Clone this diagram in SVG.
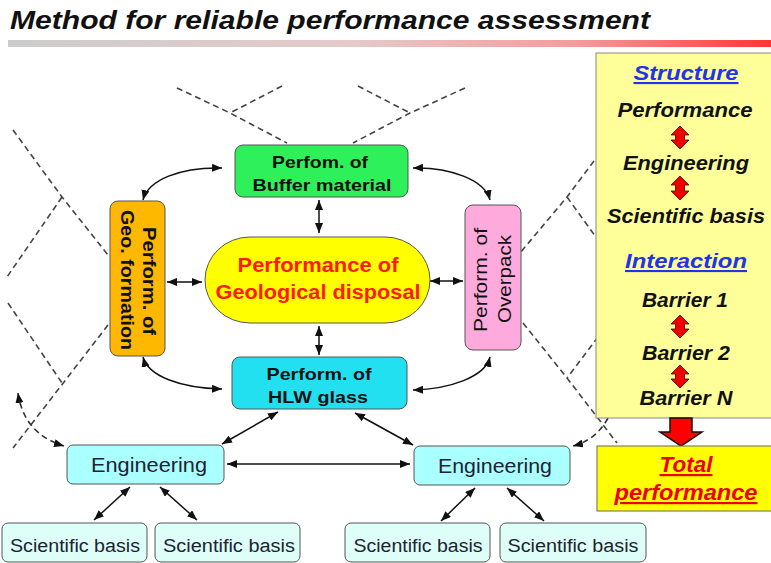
<svg xmlns="http://www.w3.org/2000/svg" width="771" height="563" viewBox="0 0 771 563">
  <defs>
    <linearGradient id="titleBar" x1="0" y1="0" x2="1" y2="0">
      <stop offset="0" stop-color="#cccccc"/>
      <stop offset="0.45" stop-color="#e6caca"/>
      <stop offset="0.75" stop-color="#f59a9a"/>
      <stop offset="1" stop-color="#ff3535"/>
    </linearGradient>
    <marker id="ah" viewBox="0 0 10 8" refX="10" refY="4" markerWidth="10" markerHeight="8" markerUnits="userSpaceOnUse" orient="auto-start-reverse">
      <path d="M0,0 L10,4 L0,8 z" fill="#111"/>
    </marker>
    <style>
      .box { stroke: #555; stroke-width: 1; }
      .lbl { font-family: "Liberation Sans", Arial, sans-serif; fill: #111; text-anchor: middle; }
      .b { font-weight: bold; }
      .bi { font-weight: bold; font-style: italic; }
      .conn { fill: none; stroke: #111; stroke-width: 1.5; marker-start: url(#ah); marker-end: url(#ah); }
      .dash { fill: none; stroke: #444; stroke-width: 1.6; stroke-dasharray: 6 4; }
      .dasharrow { fill: none; stroke: #333; stroke-width: 1.6; stroke-dasharray: 6 4; }
      .redarrow { fill: #ee0000; stroke: #550000; stroke-width: 0.8; }
    </style>
  </defs>

  <rect width="771" height="563" fill="#ffffff"/>

  <!-- heading -->
  <g id="title">
    <text x="10" y="29" class="lbl bi" font-size="25" style="text-anchor:start" textLength="640" lengthAdjust="spacingAndGlyphs">Method for reliable performance assessment</text>
    <rect x="8" y="40" width="763" height="7" fill="url(#titleBar)"/>
  </g>

  <!-- dashed context lines -->
  <g id="context-lines">
    <polyline class="dash" points="177,88 230,113 287,143"/>
    <polyline class="dash" points="282,86 230,113"/>
    <polyline class="dash" points="465,88 410,113 353,143"/>
    <polyline class="dash" points="358,86 410,113"/>
    <polyline class="dash" points="13,130 62,197 108,255"/>
    <polyline class="dash" points="62,197 7,277"/>
    <polyline class="dash" points="8,303 62,383"/>
    <polyline class="dash" points="108,325 13,448"/>
    <polyline class="dash" points="600,153 567,197 520,253"/>
    <polyline class="dash" points="567,197 598,240"/>
    <polyline class="dash" points="523,323 567,378 617,443"/>
    <polyline class="dash" points="598,337 567,378"/>
    <path class="dasharrow" d="M18,393 Q24,434 64,446" marker-start="url(#ah)" marker-end="url(#ah)"/>
    <path class="dasharrow" d="M608,418 Q596,440 573,446" marker-end="url(#ah)"/>
  </g>

  <!-- side panel -->
  <g id="panel">
    <rect x="596" y="53" width="176" height="365" fill="#ffff99" stroke="#888" stroke-width="1"/>
    <text x="686" y="80" class="bi" font-family="Liberation Sans, Arial, sans-serif" font-size="21" fill="#2233ee" text-anchor="middle" text-decoration="underline" textLength="105" lengthAdjust="spacingAndGlyphs">Structure</text>
    <text x="685" y="117" class="lbl bi" font-size="20" textLength="135" lengthAdjust="spacingAndGlyphs">Performance</text>
    <polygon class="redarrow" points="680,126 689,135 684.5,135 684.5,140 689,140 680,149 671,140 675.5,140 675.5,135 671,135"/>
    <text x="686" y="170" class="lbl bi" font-size="20" textLength="126" lengthAdjust="spacingAndGlyphs">Engineering</text>
    <polygon class="redarrow" points="680,176 689,185 684.5,185 684.5,191 689,191 680,200 671,191 675.5,191 675.5,185 671,185"/>
    <text x="686" y="223" class="lbl bi" font-size="20" textLength="158" lengthAdjust="spacingAndGlyphs">Scientific basis</text>
    <text x="686" y="268" class="bi" font-family="Liberation Sans, Arial, sans-serif" font-size="21" fill="#2233ee" text-anchor="middle" text-decoration="underline" textLength="122" lengthAdjust="spacingAndGlyphs">Interaction</text>
    <text x="685" y="307" class="lbl bi" font-size="20" textLength="86" lengthAdjust="spacingAndGlyphs">Barrier 1</text>
    <polygon class="redarrow" points="680,315 689,324 684.5,324 684.5,329 689,329 680,338 671,329 675.5,329 675.5,324 671,324"/>
    <text x="686" y="360" class="lbl bi" font-size="20" textLength="88" lengthAdjust="spacingAndGlyphs">Barrier 2</text>
    <polygon class="redarrow" points="680,365 689,374 684.5,374 684.5,379 689,379 680,388 671,379 675.5,379 675.5,374 671,374"/>
    <text x="686" y="405" class="lbl bi" font-size="20" textLength="93" lengthAdjust="spacingAndGlyphs">Barrier N</text>
  </g>

  <!-- result -->
  <g id="total">
    <polygon points="670,418 692,418 692,432 702,432 681,446 660,432 670,432" fill="#ff0000" stroke="#111" stroke-width="1.5"/>
    <rect x="597" y="446" width="175" height="65" fill="#ffff00" stroke="#666" stroke-width="1"/>
    <text x="686" y="472" class="bi" font-family="Liberation Sans, Arial, sans-serif" font-size="22" fill="#ee0000" text-anchor="middle" text-decoration="underline" textLength="53" lengthAdjust="spacingAndGlyphs">Total</text>
    <text x="686" y="500" class="bi" font-family="Liberation Sans, Arial, sans-serif" font-size="22" fill="#ee0000" text-anchor="middle" text-decoration="underline" textLength="143" lengthAdjust="spacingAndGlyphs">performance</text>
  </g>

  <!-- connectors -->
  <g id="connectors">
    <path class="conn" d="M143,200 C148,180 180,167 222,168"/>
    <path class="conn" d="M413,168 C450,167 485,180 490,200"/>
    <path class="conn" d="M143,357 C148,376 180,388 222,389"/>
    <path class="conn" d="M490,357 C485,377 450,389 413,390"/>
    <path class="conn" d="M319,200 L319,233"/>
    <path class="conn" d="M319,326 L319,355"/>
    <path class="conn" d="M167,282 L202,282"/>
    <path class="conn" d="M430,281 L463,281"/>
    <path class="conn" d="M278,412 L222,444"/>
    <path class="conn" d="M355,413 L413,445"/>
    <path class="conn" d="M227,464 L410,464"/>
    <path class="conn" d="M130,487 L94,520"/>
    <path class="conn" d="M160,487 L197,520"/>
    <path class="conn" d="M475,488 L441,521"/>
    <path class="conn" d="M507,488 L544,521"/>
  </g>

  <!-- nodes -->
  <g id="buffer">
    <rect class="box" x="235" y="145" width="173" height="52" rx="8" fill="#2ef05a"/>
    <text x="320" y="168" class="lbl b" font-size="17" textLength="96" lengthAdjust="spacingAndGlyphs">Perfom. of</text>
    <text x="322" y="191" class="lbl b" font-size="17" textLength="139" lengthAdjust="spacingAndGlyphs">Buffer material</text>
  </g>

  <g id="geo">
    <rect class="box" x="110" y="201" width="55" height="155" rx="8" fill="#ffb800"/>
    <text transform="translate(143,281) rotate(90)" x="0" y="0" class="lbl b" font-size="18" textLength="108" lengthAdjust="spacingAndGlyphs">Perform. of</text>
    <text transform="translate(121,280) rotate(90)" x="0" y="0" class="lbl b" font-size="18" textLength="140" lengthAdjust="spacingAndGlyphs">Geo. formation</text>
  </g>

  <g id="disposal">
    <rect class="box" x="205" y="237" width="225" height="86" rx="45" ry="43" fill="#ffff00"/>
    <text x="318" y="272" class="lbl b" font-size="19.5" style="fill:#ff1a00" textLength="161" lengthAdjust="spacingAndGlyphs">Performance of</text>
    <text x="318" y="299" class="lbl b" font-size="19.5" style="fill:#ff1a00" textLength="205" lengthAdjust="spacingAndGlyphs">Geological disposal</text>
  </g>

  <g id="overpack">
    <rect class="box" x="465" y="205" width="56" height="145" rx="8" fill="#ffaadd"/>
    <text transform="translate(487,280) rotate(-90)" x="0" y="0" class="lbl" font-size="18" textLength="104" lengthAdjust="spacingAndGlyphs">Perform. of</text>
    <text transform="translate(511,279) rotate(-90)" x="0" y="0" class="lbl" font-size="18" textLength="88" lengthAdjust="spacingAndGlyphs">Overpack</text>
  </g>

  <g id="hlw">
    <rect class="box" x="232" y="357" width="175" height="52" rx="8" fill="#22e0f0"/>
    <text x="319" y="380" class="lbl b" font-size="17" textLength="105" lengthAdjust="spacingAndGlyphs">Perform. of</text>
    <text x="318" y="403" class="lbl b" font-size="17" textLength="100" lengthAdjust="spacingAndGlyphs">HLW glass</text>
  </g>

  <g id="eng-left">
    <rect class="box" x="67" y="445" width="157" height="39" rx="6" fill="#aaffff"/>
    <text x="149" y="472" class="lbl" font-size="20" style="fill:#223" textLength="116" lengthAdjust="spacingAndGlyphs">Engineering</text>
  </g>

  <g id="eng-right">
    <rect class="box" x="414" y="446" width="156" height="39" rx="6" fill="#aaffff"/>
    <text x="495" y="473" class="lbl" font-size="20" style="fill:#223" textLength="114" lengthAdjust="spacingAndGlyphs">Engineering</text>
  </g>

  <g id="sci-1">
    <rect class="box" x="2" y="523" width="145" height="39" rx="6" fill="#ddfff7"/>
    <text x="75" y="552" class="lbl" font-size="18" style="fill:#223" textLength="130" lengthAdjust="spacingAndGlyphs">Scientific basis</text>
  </g>
  <g id="sci-2">
    <rect class="box" x="155" y="523" width="145" height="39" rx="6" fill="#ddfff7"/>
    <text x="229" y="552" class="lbl" font-size="18" style="fill:#223" textLength="132" lengthAdjust="spacingAndGlyphs">Scientific basis</text>
  </g>
  <g id="sci-3">
    <rect class="box" x="345" y="523" width="145" height="39" rx="6" fill="#ddfff7"/>
    <text x="418" y="552" class="lbl" font-size="18" style="fill:#223" textLength="129" lengthAdjust="spacingAndGlyphs">Scientific basis</text>
  </g>
  <g id="sci-4">
    <rect class="box" x="500" y="523" width="146" height="39" rx="6" fill="#ddfff7"/>
    <text x="573" y="552" class="lbl" font-size="18" style="fill:#223" textLength="131" lengthAdjust="spacingAndGlyphs">Scientific basis</text>
  </g>
</svg>
